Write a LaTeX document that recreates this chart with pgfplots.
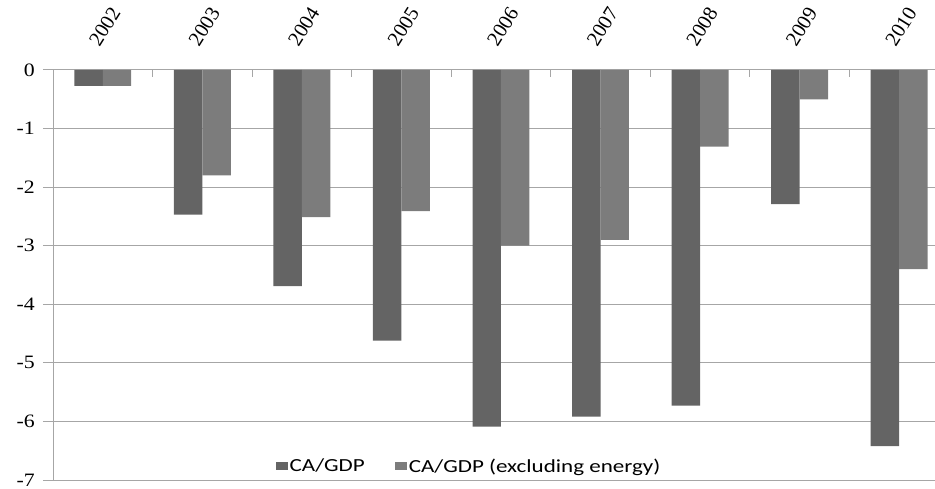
\documentclass[border=0pt]{standalone}
\usepackage{fontspec}
\setmainfont{Liberation Serif}[FakeStretch=1.15]
\newfontfamily\xfont{Liberation Serif}
\newfontfamily\legfont{Carlito}[FakeStretch=1.25]
\usepackage{pgfplots}
\pgfplotsset{compat=1.18}
\definecolor{darkbar}{HTML}{646464}
\definecolor{lightbar}{HTML}{7C7C7C}
\definecolor{gridc}{HTML}{A6A6A6}
\begin{document}
\begin{tikzpicture}
\begin{axis}[
 scale only axis, width=882bp, height=410bp,
 xmin=-0.5, xmax=8.36, ymin=-7, ymax=0,
 axis x line*=top, axis y line*=left,
 axis line style={draw=gridc, line width=1pt, -},
 ybar=0pt, bar width=0.286,
 xtick={0,...,8},
 xticklabels={2002,2003,2004,2005,2006,2007,2008,2009,2010},
 minor xtick={0.5,1.5,...,7.5},
 ytick={-7,-6,...,0},
 yticklabels={-7,-6,-5,-4,-3,-2,-1,0},
 tick align=outside,
 major tick length=10bp, minor tick length=7bp,
 major x tick style={draw=none},
 minor x tick style={draw=gridc, line width=1pt, yshift=-7bp},
 y tick style={draw=gridc, line width=1pt},
 ymajorgrids, grid style={draw=gridc, line width=1pt},
 yticklabel style={font=\fontsize{19}{22}\selectfont, inner sep=0pt, anchor=east, xshift=-8bp},
 xticklabel style={font=\xfont\fontsize{20.5}{24}\selectfont, inner sep=0pt, anchor=south west, xshift=-3bp, yshift=12bp, rotate=58},
 legend style={at={(0.4717,0.034)}, anchor=center, draw=none, fill=none,
   font=\legfont\fontsize{18.5}{20}\selectfont,
   /tikz/every odd column/.append style={column sep=0bp},
   /tikz/every even column/.append style={column sep=28bp}},
 legend columns=2,
 legend image code/.code={\fill[#1] (0bp,-4bp) rectangle (12bp,4bp);},
]
\addplot[fill=darkbar, draw=none] coordinates {
 (0,-0.27) (1,-2.47) (2,-3.69) (3,-4.62) (4,-6.09) (5,-5.92) (6,-5.73) (7,-2.29) (8,-6.42)};
\addplot[fill=lightbar, draw=none] coordinates {
 (0,-0.27) (1,-1.80) (2,-2.51) (3,-2.41) (4,-3.00) (5,-2.90) (6,-1.31) (7,-0.50) (8,-3.40)};
\legend{CA/GDP, CA/GDP (excluding energy)}
\end{axis}
\pgfresetboundingbox
\path (-53bp,-9bp) rectangle (882bp,480bp);
\end{tikzpicture}
\end{document}
